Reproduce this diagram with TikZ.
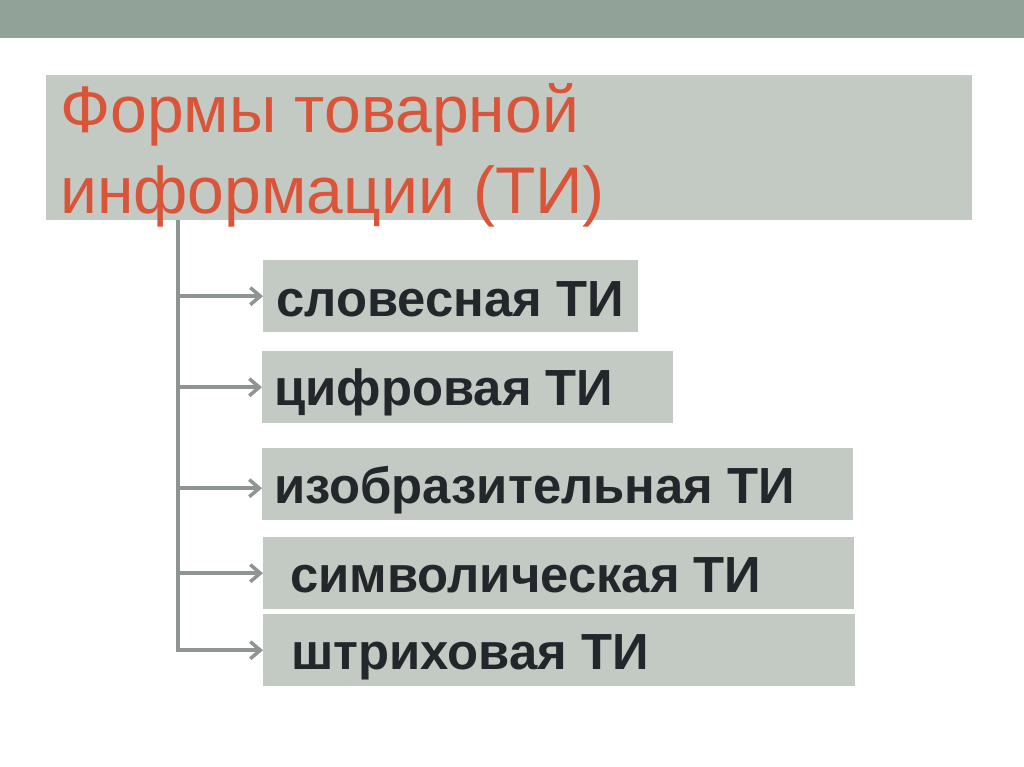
\documentclass[tikz,border=0pt]{standalone}
\usepackage{fontspec}
\setmainfont{Liberation Sans}
\usetikzlibrary{arrows.meta}

\definecolor{barcol}{HTML}{91A398}
\definecolor{boxgray}{HTML}{C3CAC4}
\definecolor{titlered}{HTML}{D9553A}
\definecolor{itemdark}{HTML}{23272B}
\definecolor{conngray}{HTML}{8E948F}

\begin{document}
\begin{tikzpicture}[x=1pt, y=-1pt,
        box/.style={fill=boxgray, inner sep=0pt, anchor=north west, minimum height=72pt},
        titletext/.style={anchor=base west, inner sep=0pt, text=titlered, font=\fontsize{66}{70}\selectfont},
        item/.style={anchor=base west, inner sep=0pt, text=itemdark, font=\bfseries\fontsize{50.8}{60}\selectfont},
        conn/.style={draw=conngray, line width=3.5pt, -{Straight Barb[length=10pt, width=17pt]}}]
        \fill[white] (0,0) rectangle (1024,767);
        \useasboundingbox (0,0) rectangle (1024,767);
        \fill[barcol] (0,0) rectangle (1024,38);

        \node[box, minimum width=926pt, minimum height=145pt] (head) at (46,75) {};
        \node[titletext] (head1) at (60,133) {Формы товарной};
        \node[titletext] (head2) at (60,214) {информации (ТИ)};

        \node[box, minimum width=375pt] (b1) at (263,260) {};
        \node[box, minimum width=411pt] (b2) at (262,351) {};
        \node[box, minimum width=591pt] (b3) at (262,448) {};
        \node[box, minimum width=591pt] (b4) at (263,537) {};
        \node[box, minimum width=592pt] (b5) at (263,614) {};

        \node[item] (t1) at (276,316) {словесная ТИ};
        \node[item] (t2) at (274,405) {цифровая ТИ};
        \node[item] (t3) at (274,503) {изобразительная ТИ};
        \node[item] (t4) at (290,592) {символическая ТИ};
        \node[item] (t5) at (291,669) {штриховая ТИ};

        \coordinate (top) at (178,220);
        \draw[conn] (top |- b1.west) -- (b1.west);
        \draw[conn] (top |- b2.west) -- (b2.west);
        \draw[conn] (top |- b3.west) ++(0,4) -- ([yshift=-4pt]b3.west);
        \draw[conn] (top |- b4.west) -- (b4.west);
        \draw[conn] (top) |- (b5.west);
\end{tikzpicture}
\end{document}
